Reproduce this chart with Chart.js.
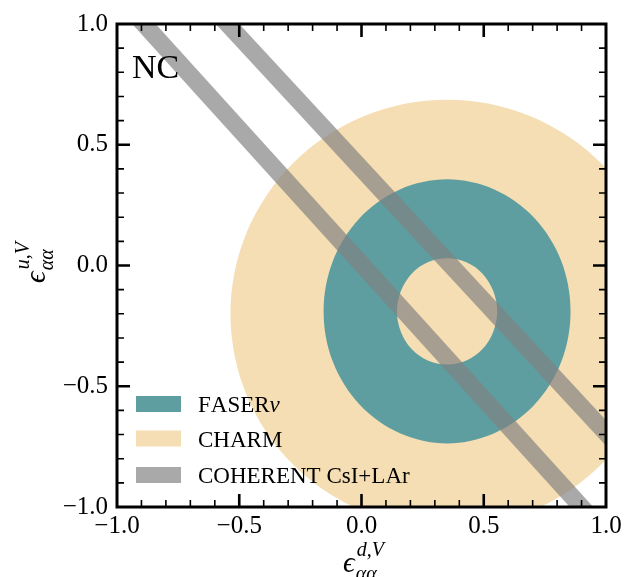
<!DOCTYPE html>
<html>
<head>
<meta charset="utf-8">
<script src="https://cdn.jsdelivr.net/npm/chart.js@4.4.0/dist/chart.umd.min.js"></script>
<style>
  html, body { margin: 0; padding: 0; background: #fff; }
  canvas { display: block; }
</style>
</head>
<body>
<canvas id="myChart" width="626" height="577"></canvas>
<script>
// contour vertices (data units)
// loops overlap by one point at each end so the spline closes smoothly
const faserX = [0.817, 0.855, 0.817, 0.707, 0.543, 0.35, 0.157, -0.007, -0.117, -0.155, -0.117, -0.007, 0.157, 0.35, 0.543, 0.707, 0.817, 0.855, 0.817];
const faserY = [-0.399, -0.19, 0.019, 0.197, 0.315, 0.357, 0.315, 0.197, 0.019, -0.19, -0.399, -0.577, -0.695, -0.737, -0.695, -0.577, -0.399, -0.19, 0.019];

const faserHoleX = [0.539, 0.555, 0.539, 0.495, 0.429, 0.35, 0.271, 0.205, 0.161, 0.145, 0.161, 0.205, 0.271, 0.35, 0.429, 0.495, 0.539, 0.555, 0.539];
const faserHoleY = [-0.274, -0.19, -0.106, -0.034, 0.013, 0.03, 0.013, -0.034, -0.106, -0.19, -0.274, -0.346, -0.393, -0.41, -0.393, -0.346, -0.274, -0.19, -0.106];

const charmX = [1.169, 1.236, 1.169, 0.977, 0.689, 0.35, 0.011, -0.277, -0.469, -0.536, -0.469, -0.277, 0.011, 0.35, 0.689, 0.977, 1.169, 1.236, 1.169];
const charmY = [-0.539, -0.2, 0.139, 0.427, 0.619, 0.686, 0.619, 0.427, 0.139, -0.2, -0.539, -0.827, -1.019, -1.086, -1.019, -0.827, -0.539, -0.2, 0.139];

// the two COHERENT bands
const coh1X = [-1.072, -0.976, 1.082, 0.986, -1.072];
const coh1Y = [1.15, 1.15, -1.15, -1.15, 1.15];
const coh2X = [-0.733, -0.637, 1.465, 1.369, -0.733];
const coh2Y = [1.15, 1.15, -1.15, -1.15, 1.15];

const tickValues = [-1, -0.5, 0, 0.5, 1];
const minorTicks = [-0.9, -0.8, -0.7, -0.6, -0.4, -0.3, -0.2, -0.1, 0.1, 0.2, 0.3, 0.4, 0.6, 0.7, 0.8, 0.9];
const legendLabels = ['FASERν', 'CHARM', 'COHERENT CsI+LAr'];

const SERIF = '"Liberation Serif", "DejaVu Serif", serif';
const teal = 'rgb(95, 158, 160)';
const wheat = 'rgb(245, 222, 179)';
const grey = 'rgba(128, 128, 128, 0.68)';

function pts(xs, ys) {
    return xs.map((x, i) => ({x: x, y: ys[i]}));
}

function shape(label, xs, ys, color, order, tension) {
    return {
        label: label,
        data: pts(xs, ys),
        showLine: true,
        fill: 'shape',
        backgroundColor: color,
        borderWidth: 0,
        pointRadius: 0,
        tension: tension,
        capBezierPoints: false,
        order: order
    };
}

// label with greek letters in italic
function drawMixed(ctx, text, x, y, size) {
    for (const ch of text) {
        const greek = /[\u0370-\u03ff]/.test(ch);
        ctx.font = (greek ? 'italic ' : '') + size + 'px ' + SERIF;
        ctx.fillText(ch, x, y);
        x += ctx.measureText(ch).width;
    }
}

function drawEps(ctx, sup, sub) {
    ctx.font = 'italic 29px ' + SERIF;
    ctx.fillText('ϵ', 0, 0);
    const w = ctx.measureText('ϵ').width;
    ctx.font = 'italic 20px ' + SERIF;
    ctx.fillText(sup, w + 2, -16);
    ctx.fillText(sub, w + 1, 8);
}

const decorations = {
    id: 'decorations',
    afterDatasetsDraw(chart) {
        const {ctx, chartArea: a, scales: {x, y}} = chart;
        ctx.save();
        ctx.strokeStyle = '#000';
        const tick = (len, vals) => {
            for (const v of vals) {
                const px = x.getPixelForValue(v);
                const py = y.getPixelForValue(v);
                ctx.beginPath();
                ctx.moveTo(px, a.bottom); ctx.lineTo(px, a.bottom - len);
                ctx.moveTo(px, a.top); ctx.lineTo(px, a.top + len);
                ctx.moveTo(a.left, py); ctx.lineTo(a.left + len, py);
                ctx.moveTo(a.right, py); ctx.lineTo(a.right - len, py);
                ctx.stroke();
            }
        };
        ctx.lineWidth = 1.6;
        tick(7, minorTicks);
        ctx.lineWidth = 2.6;
        tick(13, tickValues.slice(1, -1));
        ctx.lineWidth = 3;
        ctx.strokeRect(a.left, a.top, a.width, a.height);

        ctx.fillStyle = '#000';
        ctx.textBaseline = 'alphabetic';
        ctx.font = '34px ' + SERIF;
        ctx.fillText('NC', 132, 78);

        // legend
        const rows = [404, 438.5, 475];
        legendLabels.forEach((lab, i) => {
            const ds = chart.data.datasets.find(d => d.label === lab);
            ctx.fillStyle = ds.backgroundColor;
            ctx.fillRect(136, rows[i] - 8, 45, 16);
            ctx.fillStyle = '#000';
            drawMixed(ctx, lab, 198, rows[i] + 8, 23);
        });

        // axis titles
        ctx.save();
        ctx.translate(343, 572);
        drawEps(ctx, 'd,V', 'αα');
        ctx.restore();
        ctx.save();
        ctx.translate(45, 283);
        ctx.rotate(-Math.PI / 2);
        drawEps(ctx, 'u,V', 'αα');
        ctx.restore();
        ctx.restore();
    }
};

const fmt = v => (Math.abs(v) < 1e-9 ? '0.0' : v.toFixed(1).replace('-', '\u2212'));

const axis = (size) => ({
    type: 'linear',
    min: -1,
    max: 1,
    grid: {display: false, drawTicks: false},
    border: {display: false},
    afterBuildTicks: s => { s.ticks = tickValues.map(v => ({value: v})); },
    afterFit: size,
    ticks: {
        autoSkip: false,
        maxRotation: 0,
        color: '#000',
        font: {family: SERIF, size: 25},
        callback: fmt
    }
});

const xAxis = axis(s => { s.height = 70; });
xAxis.ticks.padding = 4;
const yAxis = axis(s => { s.width = 117; });
yAxis.ticks.padding = 9;

new Chart(document.getElementById('myChart'), {
    type: 'scatter',
    data: {
        datasets: [
            shape('FASERν', faserX, faserY, teal, 2, 0.34),
            shape('hole', faserHoleX, faserHoleY, wheat, 1, 0.34),
            shape('CHARM', charmX, charmY, wheat, 3, 0.34),
            shape('COHERENT CsI+LAr', coh1X, coh1Y, grey, 0, 0),
            shape('COHERENT band 2', coh2X, coh2Y, grey, 0, 0)
        ]
    },
    options: {
        responsive: false,
        animation: false,
        events: [],
        layout: {padding: {left: 0, right: 20, top: 17, bottom: 0}},
        scales: {x: xAxis, y: yAxis},
        plugins: {legend: {display: false}, tooltip: {enabled: false}}
    },
    plugins: [decorations]
});
</script>
</body>
</html>
